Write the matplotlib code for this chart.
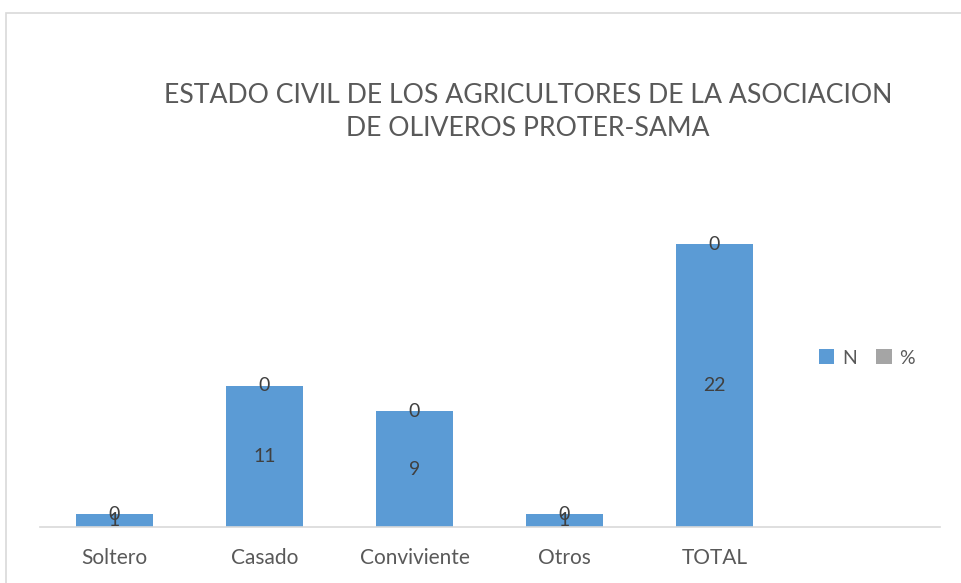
import matplotlib.pyplot as plt
from matplotlib.patches import Rectangle

categorias = ['Soltero', 'Casado', 'Conviviente', 'Otros', 'TOTAL', '']
n_vals = [1, 11, 9, 1, 22, 0]
pct_vals = [0, 0, 0, 0, 0, 0]

W, H = 961, 583
fig = plt.figure(figsize=(W / 100, H / 100), dpi=100)
plt.rcParams['font.family'] = ['Lato', 'DejaVu Sans']

# borde del grafico
fig.patches.append(Rectangle((5.5 / W, -0.1), 1.2, 1.1 - 13.5 / H,
                             transform=fig.transFigure, fill=False,
                             edgecolor='#d9d9d9', linewidth=1.2))

ax = fig.add_axes([39.5 / W, (H - 527) / H, 900 / W, 321.5 / H])
x = range(len(categorias))
ax.bar(x, n_vals, width=0.51, color='#5B9BD5', label='N')
ax.bar(x, pct_vals, bottom=n_vals, width=0.51, color='#A5A5A5', label='%')
ax.set_xlim(-0.5, len(categorias) - 0.5)
ax.set_ylim(0, 25)

for i in range(5):
    ax.text(i, n_vals[i] / 2, str(n_vals[i]), ha='center', va='center',
            fontsize=14, color='#404040')
    ax.text(i, n_vals[i] + pct_vals[i], str(pct_vals[i]), ha='center',
            va='center', fontsize=14, color='#404040')

for s in ['top', 'right', 'left']:
    ax.spines[s].set_visible(False)
ax.spines['bottom'].set_color('#d9d9d9')
ax.spines['bottom'].set_linewidth(1.2)
ax.set_yticks([])
ax.set_xticks(list(x))
ax.set_xticklabels(categorias, fontsize=15, color='#595959')
ax.tick_params(axis='x', length=0, pad=15)

fig.text(528 / W, 1 - 112 / H,
         'ESTADO CIVIL DE LOS AGRICULTORES DE LA ASOCIACION\nDE OLIVEROS PROTER-SAMA',
         ha='center', va='center', fontsize=19.2, color='#595959',
         linespacing=1.4)

ax.legend(loc='center', bbox_to_anchor=(867 / W, 1 - 358 / H),
          bbox_transform=fig.transFigure, ncol=2, frameon=False,
          fontsize=14, labelcolor='#595959', handlelength=0.8,
          handleheight=0.8, handletextpad=0.4, columnspacing=1.0)

fig.savefig('out.png', dpi=100)
